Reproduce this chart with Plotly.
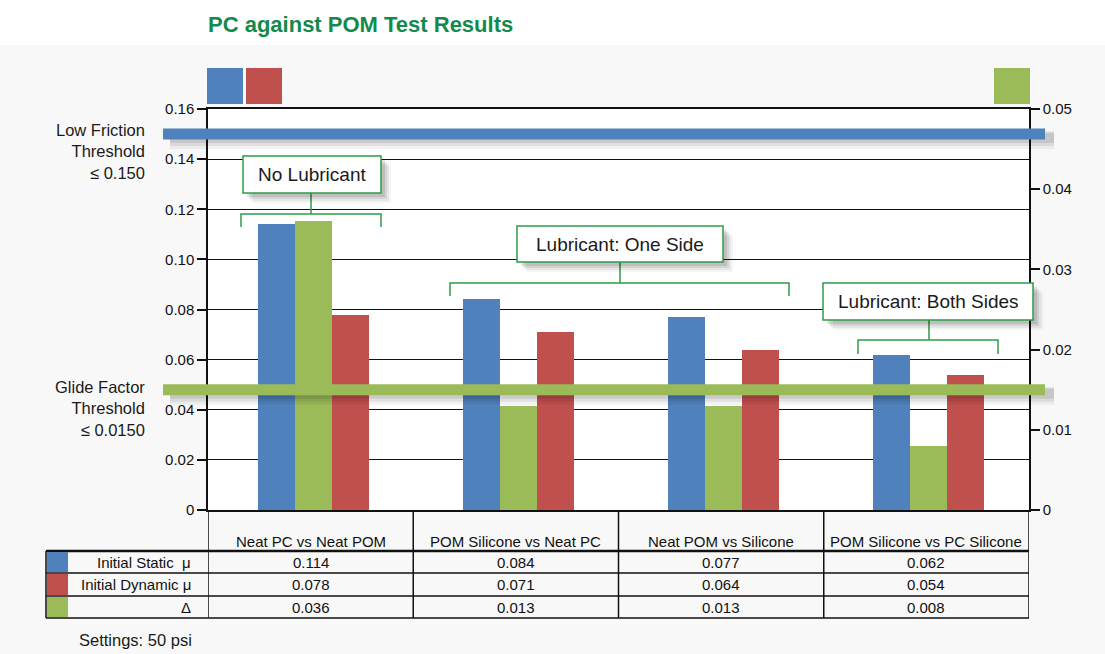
import plotly.graph_objects as go

# ---------------- data ----------------
categories = ["Neat PC vs Neat POM", "POM Silicone vs Neat PC",
              "Neat POM vs Silicone", "POM Silicone vs PC Silicone"]
static_mu = [0.114, 0.084, 0.077, 0.062]
dynamic_mu = [0.078, 0.071, 0.064, 0.054]
delta = [0.036, 0.013, 0.013, 0.008]
row_labels = ["Initial Static \u00a0\u03bc", "Initial Dynamic \u03bc", "\u0394"]
row_texts = [["0.114", "0.084", "0.077", "0.062"],
             ["0.078", "0.071", "0.064", "0.054"],
             ["0.036", "0.013", "0.013", "0.008"]]
left_ticks = [0, 0.02, 0.04, 0.06, 0.08, 0.10, 0.12, 0.14, 0.16]
left_ticktext = ["0", "0.02", "0.04", "0.06", "0.08", "0.10", "0.12", "0.14", "0.16"]
right_ticks = [0, 0.01, 0.02, 0.03, 0.04, 0.05]
right_ticktext = ["0", "0.01", "0.02", "0.03", "0.04", "0.05"]
friction_threshold = 0.150
glide_threshold = 0.0150

BLUE = "#4f81bd"
RED = "#c0504d"
GREEN = "#9bbb59"
DKGREEN = "#2e9a4a"
FONT = "Liberation Sans, Arial, sans-serif"

W, H = 1105, 654
L, R, T, B = 208, 76, 109, 144
PW, PH = W - L - R, H - T - B


def px(x):
    return (x - L) / PW


def py(y):
    return (H - B - y) / PH


fig = go.Figure()
fig.add_trace(go.Bar(x=list(range(4)), y=static_mu, name="Initial Static \u03bc",
                     marker=dict(color=BLUE, line=dict(width=0)),
                     width=0.18, offset=-0.258, yaxis="y"))
fig.add_trace(go.Bar(x=list(range(4)), y=delta, name="\u0394",
                     marker=dict(color=GREEN, line=dict(width=0)),
                     width=0.18, offset=-0.078, yaxis="y2"))
fig.add_trace(go.Bar(x=list(range(4)), y=dynamic_mu, name="Initial Dynamic \u03bc",
                     marker=dict(color=RED, line=dict(width=0)),
                     width=0.18, offset=0.102, yaxis="y"))

shapes = []
ann = []


def text(t, x, y, size=15, xanchor="center", xref="paper", color="#1a1a1a", align="center"):
    ann.append(dict(text=t, xref=xref, yref="paper", x=x, y=y, xanchor=xanchor,
                    yanchor="middle", showarrow=False, align=align,
                    font=dict(size=size, color=color, family=FONT)))


# light gray background panel
shapes.append(dict(type="rect", xref="paper", yref="paper", x0=px(0), x1=px(W),
                   y0=py(45), y1=py(H), fillcolor="#f8f8f8", line=dict(width=0),
                   layer="below"))
shapes.append(dict(type="rect", xref="paper", yref="paper", x0=0, x1=1,
                   y0=0, y1=1, fillcolor="white", line=dict(width=0), layer="below"))

# threshold lines with soft shadow
for val, yref, col in [(friction_threshold, "y", BLUE), (glide_threshold, "y2", GREEN)]:
    rng = 0.16 if yref == "y" else 0.05
    yp = val / rng
    for dy, a, w in [(6, 0.05, 18), (5, 0.07, 14), (4, 0.09, 10)]:
        shapes.append(dict(type="line", xref="paper", yref="paper",
                           x0=px(170), x1=px(1054), y0=yp - dy / PH, y1=yp - dy / PH,
                           line=dict(color=f"rgba(0,0,0,{a})", width=w), layer="above"))
    shapes.append(dict(type="line", xref="paper", yref=yref, x0=px(163), x1=px(1045),
                       y0=val, y1=val, line=dict(color=col, width=11), layer="above"))

# group label boxes & brackets
boxes = [
    ("No Lubricant", 243, 381, 156, 193, 241, 381, 214, 227, 311),
    ("Lubricant: One Side", 517, 723, 226, 262, 450, 789, 283, 296, 620),
    ("Lubricant: Both Sides", 823, 1033, 283, 320, 858, 998, 340, 354, 929),
]
for (lab, bx0, bx1, by0, by1, kx0, kx1, ky, kb, cx) in boxes:
    gl = dict(color=DKGREEN, width=1.5)
    shapes.append(dict(type="path", xref="paper", yref="paper",
                       path=f"M {px(kx0)},{py(kb)} L {px(kx0)},{py(ky)} L {px(kx1)},{py(ky)} L {px(kx1)},{py(kb)}",
                       line=gl, layer="above"))
    shapes.append(dict(type="line", xref="paper", yref="paper", x0=px(cx), x1=px(cx),
                       y0=py(by1), y1=py(ky), line=gl, layer="above"))
    for off, a in [(10, 0.04), (8, 0.06), (6, 0.08), (4, 0.10)]:
        shapes.append(dict(type="rect", xref="paper", yref="paper",
                           x0=px(bx0 + off), x1=px(bx1 + off), y0=py(by0 + off), y1=py(by1 + off),
                           fillcolor=f"rgba(0,0,0,{a})", line=dict(width=0), layer="above"))
    shapes.append(dict(type="rect", xref="paper", yref="paper",
                       x0=px(bx0), x1=px(bx1), y0=py(by0), y1=py(by1),
                       fillcolor="white", line=dict(color=DKGREEN, width=1.5), layer="above"))
    text(lab, px((bx0 + bx1) / 2), py((by0 + by1) / 2), size=19)

# legend squares at top
for x0, x1, col in [(207, 243, BLUE), (246, 282, RED), (994, 1030, GREEN)]:
    shapes.append(dict(type="rect", xref="paper", yref="paper", x0=px(x0), x1=px(x1),
                       y0=py(104), y1=py(68), fillcolor=col, line=dict(width=0)))

# ---------- data table ----------
tbl_top, hdr_bot, tbl_bot = 510, 551, 618
row_bounds = [551, 573, 596, 618]
blk = dict(color="#111", width=1.5)
for i in range(5):
    shapes.append(dict(type="line", xref="x", yref="paper", x0=i - 0.5, x1=i - 0.5,
                       y0=py(tbl_top), y1=py(tbl_bot), line=blk))
shapes.append(dict(type="line", xref="paper", yref="paper", x0=px(46), x1=px(1029),
                   y0=py(hdr_bot), y1=py(hdr_bot), line=dict(color="#111", width=2.5)))
for yb in row_bounds[1:]:
    shapes.append(dict(type="line", xref="paper", yref="paper", x0=px(46), x1=px(1029),
                       y0=py(yb), y1=py(yb), line=blk))
shapes.append(dict(type="line", xref="paper", yref="paper", x0=px(46), x1=px(46),
                   y0=py(hdr_bot), y1=py(tbl_bot), line=blk))
for r, col in enumerate([BLUE, RED, GREEN]):
    yc = py((row_bounds[r] + row_bounds[r + 1]) / 2)
    shapes.append(dict(type="rect", xref="paper", yref="paper", x0=px(47), x1=px(68),
                       y0=py(row_bounds[r + 1] - 1), y1=py(row_bounds[r] + 1),
                       fillcolor=col, line=dict(width=0)))
    text(row_labels[r], px(193), yc, xanchor="right", color="#111")
    for c in range(4):
        text(row_texts[r][c], c, yc, xref="x", color="#111")
for c, cat in enumerate(categories):
    text(cat, c, py(541), xref="x", color="#111")

# threshold labels
for lines, ymid in [(["Low Friction", "Threshold", "\u2264 0.150"], 151),
                    (["Glide Factor", "Threshold", "\u2264 0.0150"], 408)]:
    text("<br>".join(lines), px(147), py(ymid), size=16.5, xanchor="right", align="right")

# title and footnote
text("<b>PC against POM Test Results</b>", px(360), py(24), size=22, color="#138a4c")
text("Settings: 50 psi", px(77), py(640), size=16.5, xanchor="left")

fig.update_layout(
    width=W, height=H, margin=dict(l=L, r=R, t=T, b=B, pad=0),
    paper_bgcolor="white", plot_bgcolor="white", showlegend=False,
    bargap=0, shapes=shapes, annotations=ann,
    font=dict(family=FONT, color="#111"),
    xaxis=dict(range=[-0.5, 3.5], showticklabels=False, ticks="", showgrid=False,
               zeroline=False, showline=True, linecolor="#111", linewidth=1.5, mirror=True),
    yaxis=dict(range=[0, 0.16], tickvals=left_ticks, ticktext=left_ticktext,
               ticks="outside", ticklen=9, tickcolor="#111", tickwidth=1.5,
               showline=True, linecolor="#111", linewidth=1.5,
               showgrid=True, gridcolor="#111", gridwidth=1.2, zeroline=False,
               tickfont=dict(size=15, color="#111", family=FONT)),
    yaxis2=dict(range=[0, 0.05], tickvals=right_ticks, ticktext=right_ticktext,
                overlaying="y", side="right", ticks="outside", ticklen=9,
                tickcolor="#111", tickwidth=1.5, showline=True, linecolor="#111",
                linewidth=1.5, showgrid=False, zeroline=False,
                tickfont=dict(size=15, color="#111", family=FONT)),
)

fig.write_html("out.html", config={"displayModeBar": False},
               post_script="document.body.style.margin='0';document.body.style.padding='0';")
